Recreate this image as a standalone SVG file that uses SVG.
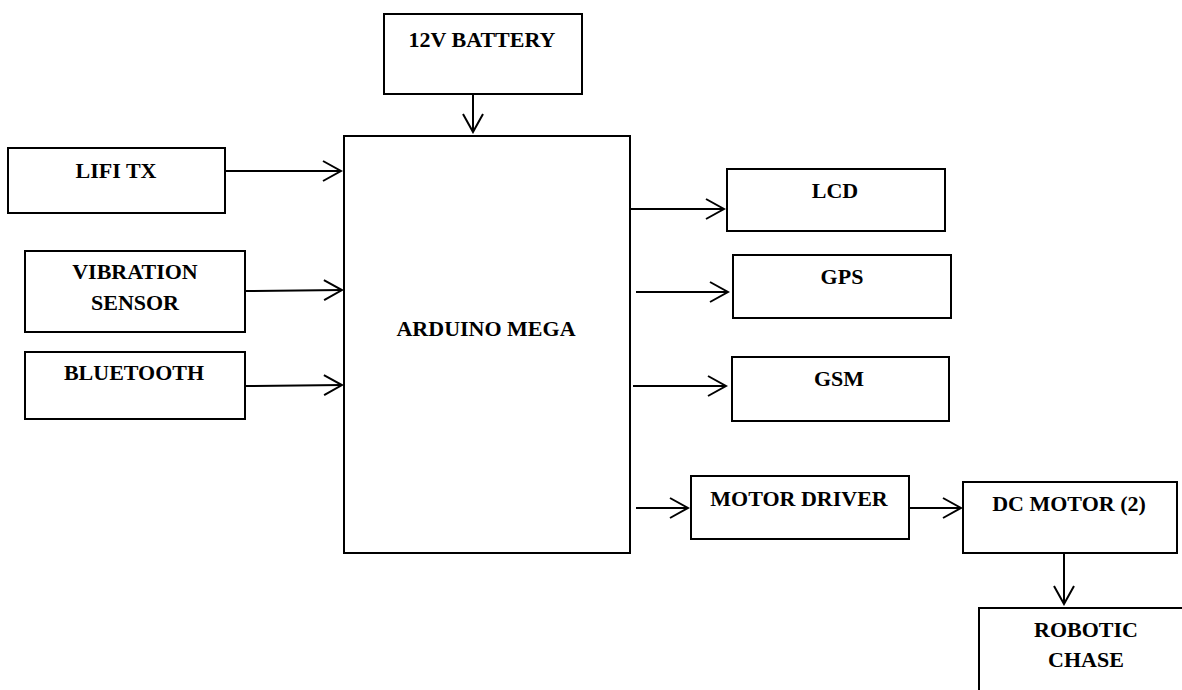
<svg xmlns="http://www.w3.org/2000/svg" width="1182" height="690" viewBox="0 0 1182 690">
<style>
.box{fill:#fff;stroke:#000;stroke-width:2}
.lbl{font-family:"Liberation Serif","Times New Roman",serif;font-weight:bold;font-size:22px;fill:#000;text-anchor:middle}
.conn line{stroke:#000;stroke-width:2;fill:none;marker-end:url(#arr)}
</style>
<defs>
<marker id="arr" markerUnits="userSpaceOnUse" viewBox="-22 -13 24 26" markerWidth="24" markerHeight="26" refX="0" refY="0" orient="auto">
<path d="M-18,-10 L0,0 L-18,10" fill="none" stroke="#000" stroke-width="2"/>
</marker>
</defs>
<rect width="1182" height="690" fill="#fff"/>
<g id="battery"><rect class="box" x="384" y="14" width="198" height="80"/><text class="lbl" x="482" y="47">12V BATTERY</text></g>
<g id="arduino"><rect class="box" x="344" y="136" width="286" height="417"/><text class="lbl" x="486" y="336">ARDUINO MEGA</text></g>
<g id="lifi"><rect class="box" x="8" y="148" width="217" height="65"/><text class="lbl" x="116" y="178">LIFI TX</text></g>
<g id="vibration"><rect class="box" x="25" y="251" width="220" height="81"/><text class="lbl" x="135" y="279">VIBRATION</text><text class="lbl" x="135" y="310">SENSOR</text></g>
<g id="bluetooth"><rect class="box" x="25" y="352" width="220" height="67"/><text class="lbl" x="134" y="380">BLUETOOTH</text></g>
<g id="lcd"><rect class="box" x="727" y="169" width="218" height="62"/><text class="lbl" x="835" y="198">LCD</text></g>
<g id="gps"><rect class="box" x="733" y="255" width="218" height="63"/><text class="lbl" x="842" y="284">GPS</text></g>
<g id="gsm"><rect class="box" x="732" y="357" width="217" height="64"/><text class="lbl" x="839" y="386">GSM</text></g>
<g id="motordriver"><rect class="box" x="691" y="476" width="218" height="63"/><text class="lbl" x="799" y="506">MOTOR DRIVER</text></g>
<g id="dcmotor"><rect class="box" x="963" y="482" width="214" height="71"/><text class="lbl" x="1069" y="511">DC MOTOR (2)</text></g>
<g id="robotic"><rect class="box" x="979" y="608" width="240" height="110"/><text class="lbl" x="1086" y="637">ROBOTIC</text><text class="lbl" x="1086" y="667">CHASE</text></g>
<g class="conn" id="connectors">
<line x1="473" y1="95" x2="473" y2="132"/>
<line x1="225" y1="171" x2="341" y2="171"/>
<line x1="245" y1="291" x2="342" y2="290"/>
<line x1="245" y1="386" x2="342" y2="385"/>
<line x1="630" y1="209" x2="724" y2="209"/>
<line x1="636" y1="292" x2="728" y2="292"/>
<line x1="633" y1="386" x2="726" y2="386"/>
<line x1="636" y1="508" x2="688" y2="508"/>
<line x1="909" y1="508" x2="961" y2="508"/>
<line x1="1064" y1="553" x2="1064" y2="604"/>
</g>
</svg>
